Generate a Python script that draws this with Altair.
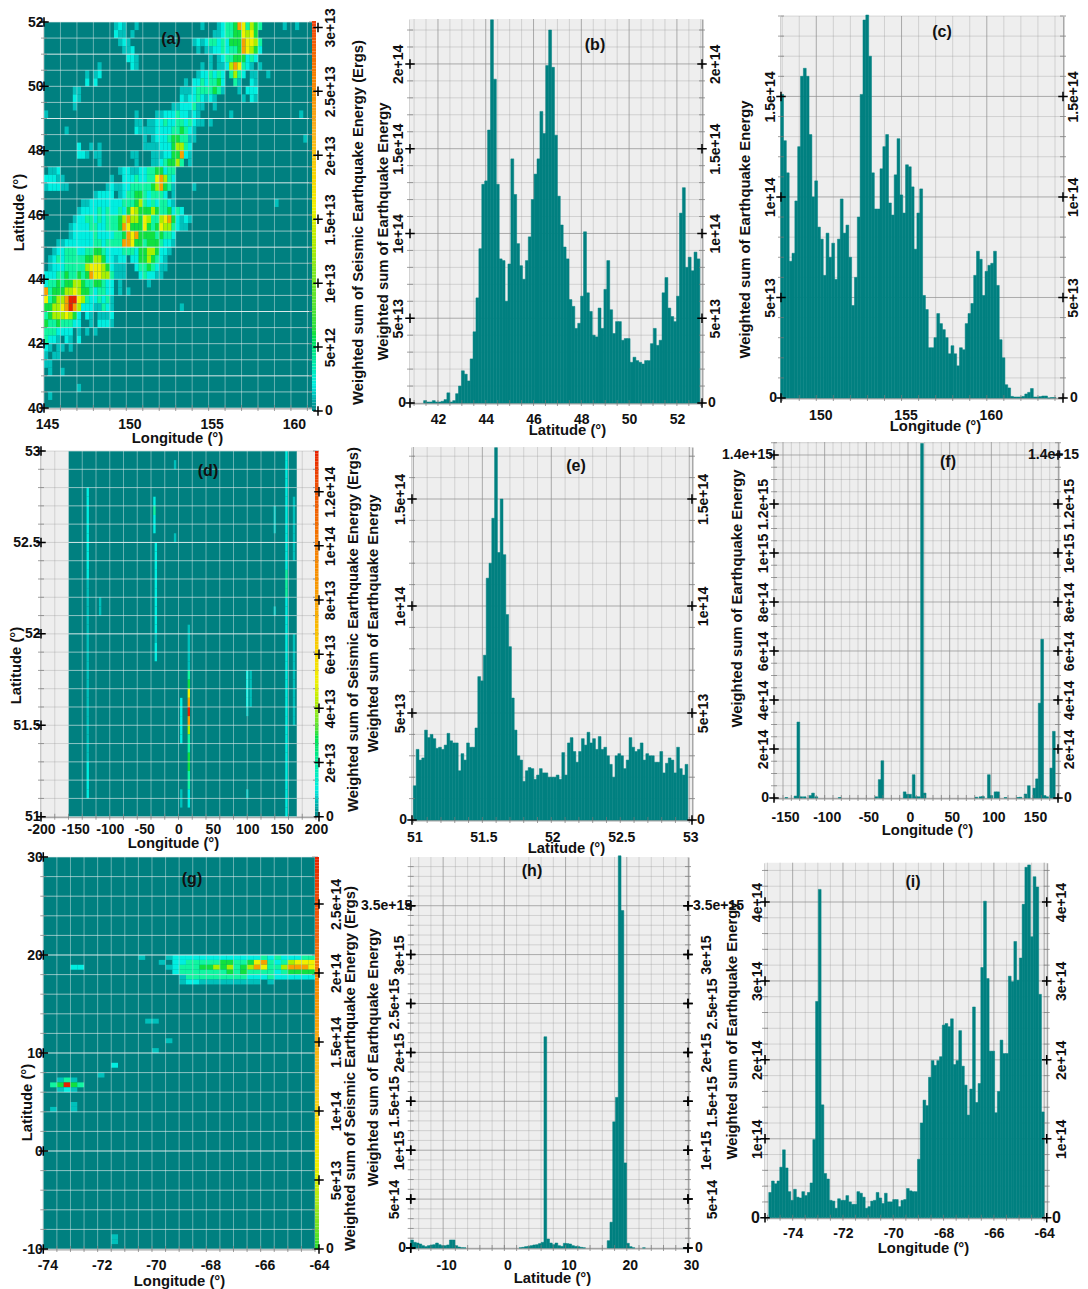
import numpy as np
import pandas as pd
import altair as alt

W, H = 1072, 1281
FONT = "Liberation Sans"
TEAL = "#008080"
PAL = ["#008080", "#00c0bb", "#00eee0", "#10f5a0", "#10e040", "#a8f000", "#f0f000", "#f8a000", "#e82000"]
T_SEIS = "Weighted sum of Seismic Earthquake Energy (Ergs)"
T_EQ = "Weighted sum of Earthquake Energy"

# ---------- histogram series (units noted per list) ----------
b_e13 = [.14,.06,.06,.14,.06,.06,.1,.2,.6,.06,.14,.55,1.0,1.9,1.7,1.3,2.6,4.2,6.2,9.1,12.9,13.1,16.1,22.6,19.1,12.9,8.5,8.4,6.0,8.2,14.4,12.3,9.4,8.1,7.3,8.4,9.8,12.0,13.5,14.4,17.2,15.9,19.9,22.0,19.8,15.8,12.2,10.5,9.2,8.5,6.1,5.7,4.4,4.7,6.3,10.1,6.5,5.4,4.0,3.9,5.6,4.4,6.7,8.4,5.5,4.1,4.8,4.8,3.7,3.8,3.8,2.4,2.7,2.5,2.4,2.3,2.5,2.5,3.5,4.4,3.4,3.7,6.5,7.4,5.6,5.1,4.8,6.3,11.2,12.7,8.0,8.6,7.8,8.9,8.5]
c_e13 = [15.1,12.8,11.2,6.8,7.2,9.8,12.5,16.0,16.4,16.0,13.1,10.0,10.8,8.5,7.9,6.1,8.2,7.0,7.7,5.9,7.9,9.9,8.2,8.6,7.0,4.6,6.0,9.0,15.1,18.8,19.05,17.0,11.2,9.4,9.4,11.4,12.5,13.1,9.7,9.1,11.1,12.9,10.1,9.2,11.6,11.5,10.5,7.4,9.2,10.4,5.1,4.4,2.5,2.5,3.0,4.2,3.7,3.4,3.0,2.2,2.6,2.2,1.6,2.5,2.4,3.7,4.2,4.7,6.1,7.3,6.9,5.1,6.3,6.6,6.7,7.3,5.6,2.9,2.0,.66,.5,.08,.05,.05,.05,.08,.2,.28,.47,.05,.05,.07,.1,.1,0,.02,.02]
e_e13 = [1.6,3.3,2.8,2.9,4.2,3.85,4.0,3.8,3.35,3.4,3.3,3.5,4.05,3.7,3.6,3.6,2.3,3.1,2.8,3.6,3.4,3.4,4.3,6.7,6.5,7.7,11.3,12.0,14.1,17.4,12.5,15.0,12.4,9.6,8.1,5.7,4.2,3.0,2.8,1.8,2.3,2.45,2.4,1.9,2.1,2.4,2.2,2.2,2.0,2.0,2.0,2.1,1.9,3.15,2.1,3.6,3.85,3.2,2.7,3.2,3.8,3.5,4.1,3.6,3.8,3.3,3.9,3.3,3.4,3.0,2.6,2.0,3.0,3.1,3.0,2.4,2.8,3.85,3.4,3.2,3.3,3.6,2.8,3.1,3.0,3.0,2.7,2.7,3.2,2.2,2.65,2.9,2.8,2.2,3.4,2.4,2.1,2.6]
f_lon = [-146,-135,-131.6,-128,-124,-117,-114,-110,-82,-38,-34,-30.8,-4,-1,2.5,6.8,10,13,16.8,20,82,87,90,97,100,105,108,117,132,135,141,145,151.6,154.8,158,161,164,167,172,175]
f_e14 = [.02,.08,3.1,.05,.05,.1,.2,.05,.02,.05,.75,1.52,.25,.15,.15,.95,.05,.05,14.47,.2,.03,.05,.06,.95,.1,.25,.25,.02,.02,.03,.16,.5,.4,.78,3.87,6.48,.1,.05,1.22,2.72]
h_run1_e14 = [.82,.58,.51,.41,.24,.14,.24,.31,.34,.51,.34,.24,.24,.31,.82,.82,.24,.1,.03,.02]
h_run2_e14 = [.02,.07,.14,.17,.24,.31,.34,.45,.58,21.6,.92,.51,.34,.51,.24,.17,.48,.45,.41,.24,.17,.14,.07,.02]
h_run3_e14 = [.75,2.64,12.9,15.4,40.1,34.5,8.7,.48,.14,.02]
h_lat_single = [22.8, 29.4]
h_val_single = [.02, .01]
i_e13 = [3.2,4.65,4.3,4.65,6.4,8.6,6.3,3.3,2.2,3.6,2.6,2.5,3.3,2.8,3.2,4.4,9.9,27.4,41.6,14.3,5.6,4.9,2.2,2.1,1.2,2.4,2.2,2.2,2.8,2.0,1.7,1.7,3.3,3.1,2.6,1.2,1.4,2.1,2.2,3.2,2.5,1.8,3.1,2.0,2.0,2.3,2.3,1.4,2.2,2.3,3.7,3.4,3.3,3.3,7.4,12.0,14.9,14.2,17.8,19.9,19.3,19.9,20.4,24.4,24.6,24.2,25.2,19.4,19.9,23.7,19.2,16.8,13.0,16.3,26.7,14.6,17.0,31.7,40.1,30.3,21.1,21.1,13.3,16.0,22.5,20.8,20.8,30.6,29.9,35.0,30.1,32.9,39.7,44.4,44.7,35.6,43.2,41.9,28.3,13.4]

# ---------- heat maps: one character per cell, level 0-8 ('.' = none) ----------
a_rows = [
 "..... ..... ..... ..121 ..1.. ..... ..... ...1. ..123 34763 543.. ...1. .1...",
 "..... ..... ..... ..211 .1... ..... ..... ..... .1123 34465 64... ..... .....",
 "..... ..... ..... ...12 1.... ..... ..... .1212 33232 44476 653.. ..... .....",
 "..... ..... ..... ....1 12... ..... ..... ..1.1 12232 33476 542.. ..... .....",
 "..... ..... ..... ..... 221.. ..... ..... ..... 1.123 34442 32... ..... .....",
 "..... ..... ...1. ..... .21.. ..... ..... ...1. 1.112 57632 1.1.. ..... .....",
 "..... ..... 1.12. ..... ..... ..... ..... ..122 3232. 3532. 11..1 ..... .....",
 "..... ..... 2.2.. ..... ..... ..... ....1 .2232 3342. .31.. 21... ..... .....",
 "..... ..11. ..... ..... ..... ..... ...11 12333 3431. ..1.2 22... ..... .....",
 "..... ..21. ..... ..... ..... ..... ...21 22321 21... ...1. 21... ..... .....",
 "..... ..1.. ..... ..... ..... ..... .1122 2311. .1... ..... ..... ..... .....",
 "1.... ..... ..... ..... ..1.. ..112 22322 121.. ..... 1.... ..... ..... ..1..",
 "..... ..... ..... ..... ..11. 11223 22332 3211. 1.... ..... ..... ..... .....",
 "..... 1.... ..... ..... ..211 11222 23343 21... ..... ..... ..... ..... .....",
 "..... ..... ..... ..... ....1 .1222 34433 11... ..... ..... ..... ..... ...1.",
 "..... ...2. .1.1. ..... ....1 11122 24553 2.... ..... ..... ..... ..... .....",
 "..... ...22 1.11. ..... .11.. .1112 24472 1.... ..... ..... ..... ..... .....",
 "..... ..... ...1. ..... ..1.. .1123 4453. 1.... ..... ..... ..... ..... .....",
 ".112. ..... ..... ...12 21122 33442 33... ..... ..... ..... ..... ..... .....",
 "22211 ..... ..... .1..2 22322 33675 32... ..... ..... ..... ..... ..... .....",
 "12221 1.... ..... 12112 23333 34574 31... .1... ..... ..... ..... ..... .....",
 "..... ..... ..122 22.12 33443 23332 .1... ..... ..... ..... ..... ..... .....",
 "..... ....1 12222 22223 33453 23233 21... ..... ..... ..... ..... .1... .....",
 "..... ...12 22232 32232 46544 45433 4232. ..... ..... ..... ..... ..... .....",
 "..... ..122 33232 33345 75546 53356 74212 1.... ..... ..... ..... ..... .....",
 "..... .1222 23322 33347 64446 43465 53211 ..... ..... ..... ..... ..... .....",
 "..... .1222 22322 22334 76744 44343 32... ..... ..... ..... ..... ..... .....",
 "...11 22222 22332 33337 76443 44432 21... ..... ..... ..... ..... ..... .....",
 "..122 33322 33443 22223 33244 55422 1.... ..... ..... ..... ..... ..... .....",
 ".1232 33333 44554 22122 .2244 54321 ..... ..... ..... ..... ..... ..... .....",
 ".1222 33333 56665 42111 ..233 43211 ..... ..... ..... ..... ..... ..... .....",
 "22233 43343 47665 53111 ...23 2211. ..... ..... ..... ..... ..... ..... .....",
 "23343 44554 33443 22.1. ..... 1.... ..... ..... ..... ..... ..... ..... .....",
 "73444 55654 43233 22.1. 1.... ..... ..... ..... ..... ..... ..... ..... .....",
 "63455 78865 32232 31... ..... ..... ..... ..... ..... ..... ..... ..... .....",
 "44556 78752 22113 21... ..... ..... ...1. ..... ..... ..... ..... ..... .....",
 "34555 6542. 21.11 12... ..... ..... ..... ..... ..... ..... ..... ..... .....",
 "43343 3322. .1.22 21... ..... ..... ..... ..... ..... ..... ..... ..... .....",
 "33322 22.1. 1.1.. ..... ..... ..... ..... ..... ..... ..... ..... ..... .....",
 "3221. 21.2. ..... ..... ..... ..... ..... ..... ..... ..... ..... ..... .....",
 "21.11 .1... ..... ..... ..... ..... ..... ..... ..... ..... ..... ..... .....",
 "1.11. ..... ..... ..... ..... ..... ..... ..... ..... ..... ..... ..... .....",
 "11... ..... ..... ..... ..... ..... ..... ..... ..... ..... ..... ..... .....",
 ".1..1 ..... ..... ..... ..... ..... ..... ..... ..... ..... ..... ..... .....",
 "..... ..... ..... ..... ..... ..... ..... ..... ..... ..... ..... ..... .....",
 "..... ...1. ..... ..... ..... ..... ..... ..... ..... ..... ..... ..... .....",
 ".1... ..... ..... ..... ..... ..... ..... ..... ..... ..... ..... ..... .....",
 "..... ..... ..... ..... ..... ..... ..... ..... ..... ..... ..... ..... .....",
]
d_streak_lon = [-132, -114, -35, -33, -5, 4, 15, 100, 105, 140, 157, 168]
d_streaks = [
 "....2222222222111111111111111111112222",
 "................11......................",
 ".....2322...............................",
 "..........2222222222122.................",
 ".1.......1..............................",
 "...........................22222.....11.",
 "...................11111346787533443322",
 "........................22221........1..",
 "........................1111............",
 "......111........1......................",
 "2222222222222333222222222222222222222222",
 ".....1111111........1111111111..........",
]
g_rows = {
 20.0: "..... ..... ....1 ...12 22222 22222 22323 22233",
 19.5: "..... ..... ..... ..1.2 23333 34433 46732 35666",
 19.0: "....2 2.... ..... ...12 33344 54534 57633 57776",
 18.5: "..... ..... ..... ....2 33333 33434 33332 34444",
 18.0: "..... ..... ..... ..... 13333 33333 22232 22222",
 17.5: "..... ..... ..... ..... 12211 11111 11.1. .....",
 13.5: "..... ..... ..... 11... ..... ..... ..... .....",
 11.5: "..... ..... ..... ...1. ..... ..... ..... .....",
 10.5: "..... ..... ..... .1... ..... ..... ..... .....",
 9.0:  "..... ..... 2.... ..... ..... ..... ..... .....",
 8.0:  "..... ...1. ..... ..... ..... ..... ..... .....",
 7.5:  "..131 ..... ..... ..... ..... ..... ..... .....",
 7.0:  ".3484 3.... ..... ..... ..... ..... ..... .....",
 6.5:  "..121 ..... ..... ..... ..... ..... ..... .....",
 5.0:  "....1 ..... ..... ..... ..... ..... ..... .....",
 4.5:  ".1..1 ..... ..... ..... ..... ..... ..... .....",
 -8.5: "..... ..... 1.... ..... ..... ..... ..... .....",
 -9.0: "..... ..... 1.... ..... ..... ..... ..... .....",
}
# colour bars: value stops and colours
a_stops = [0, 2e12, 6e12, 1.1e13, 1.6e13, 2.2e13, 3.05e13]
a_cols = ["#008080", "#00eee0", "#10e040", "#7fe820", "#f0f000", "#f8b020", "#f04010"]
d_stops = [0, 1e13, 3e13, 5e13, 8e13, 1.35e14]
d_cols = ["#008080", "#00eee0", "#10e040", "#f0f000", "#f8a000", "#e82000"]
g_stops = [0, 3e13, 6e13, 1.3e14, 2.3e14, 2.84e14]
g_cols = ["#10dd30", "#a0e820", "#f0f000", "#f8c020", "#f06010", "#e82000"]


def bins(lo, hi, vals, mul):
    step = (hi - lo) / len(vals)
    return [(lo + i * step, lo + (i + 1) * step, v * mul) for i, v in enumerate(vals)]


def centred(cs, vals, wid, mul):
    return [(c - wid / 2, c + wid / 2, v * mul) for c, v in zip(cs, vals)]


def cells_from_rows(rows, lon0, dlon, lat0, dlat):
    out = []
    for j, r in enumerate(rows):
        r = r.replace(" ", "")
        for i, ch in enumerate(r):
            if ch != ".":
                out.append(dict(x0=lon0 + i * dlon, x1=lon0 + (i + 1) * dlon,
                                y0=lat0 - j * dlat, y1=lat0 - (j + 1) * dlat, lv=int(ch)))
    return out


a_cells = cells_from_rows(a_rows, 145, .25, 52, .25)
d_cells = []
for lon, s in zip(d_streak_lon, d_streaks):
    for j, ch in enumerate(s):
        if ch != ".":
            d_cells.append(dict(x0=lon - 1.7, x1=lon + 1.7, y0=53 - j * .05, y1=53 - (j + 1) * .05, lv=int(ch)))
g_cells = []
for top, s in g_rows.items():
    for i, ch in enumerate(s.replace(" ", "")):
        if ch != ".":
            g_cells.append(dict(x0=-74 + i * .25, x1=-74 + (i + 1) * .25, y0=top, y1=top - .5, lv=int(ch)))

h_bars = (bins(-15.3, -15.3 + .452 * 20, h_run1_e14, 1e14) + bins(2.4, 2.4 + .452 * 24, h_run2_e14, 1e14)
          + bins(16.8, 16.8 + .452 * 10, h_run3_e14, 1e14) + centred(h_lat_single, h_val_single, .45, 1e14))

E = "datum.value == 0 ? '0' : format(datum.value, '.2~e')"
N = "datum.value + ''"
TS = 14.8


def scale(dom, rng):
    return alt.Scale(domain=list(dom), range=[rng[0] - 8, rng[1] - 8], nice=False, zero=False)


def inv(v, dom, rng):
    return dom[0] + (v - rng[0]) * (dom[1] - dom[0]) / (rng[1] - rng[0])


def yaxis(orient, values, x_px, pad, angle=270, title=None, title_x=None, title_cy=None, expr=E, domain=True):
    off = -(x_px - 8) if orient == "left" else (x_px - 8 - W)
    kw = dict(orient=orient, values=values, offset=off, ticks=False, tickSize=0, grid=False,
              labelPadding=pad, labelAngle=angle, labelOverlap=False, labelFlush=False,
              labelBaseline="middle", domain=domain, domainColor="#a8a8a8", domainWidth=2,
              labelFontSize=14, labelFontWeight="bold", labelFont=FONT, labelColor="#111111",
              labelExpr=expr)
    kw["labelAlign"] = "center" if angle else ("right" if orient == "left" else "left")
    if title:
        kw.update(title=title, titleX=title_x - x_px, titleY=title_cy - 8, titleAngle=270, titleAlign="center",
                  titleBaseline="middle", titleFontSize=TS, titleFontWeight="bold", titleFont=FONT, titleColor="#111111")
    else:
        kw["title"] = None
    return alt.Axis(**kw)


def xaxis(values, y_px, lab_y, title, tx, ty, off=0):
    return alt.Axis(orient="bottom", values=values, offset=y_px - 8 - H, ticks=False, tickSize=0, grid=False,
                    labelPadding=lab_y - y_px, labelBaseline="middle", labelAngle=0, labelOverlap=False, labelFlush=False,
                    labelOffset=off, domain=True, domainColor="#a8a8a8", domainWidth=2, labelExpr=N,
                    labelFontSize=14, labelFontWeight="bold", labelFont=FONT, labelColor="#111111",
                    title=title, titleX=tx - 8, titleY=ty - y_px, titleFontSize=TS, titleFontWeight="bold",
                    titleFont=FONT, titleColor="#111111", titleAnchor="middle", titleBaseline="middle", titleAlign="center")


PLUS = dict(shape="M-1,0H1M0,-1V1", filled=False, size=90, stroke="#000000", strokeWidth=1.5, opacity=1)


def grid_layers(p, xs, ys, col, wid=1.0, xr=None, yr=None):
    xd, yd = p["xd"], p["yd"]
    sx, sy = scale(xd, p["xp"]), scale(yd, p["yp"])
    a, b = (yr or yd)
    c, d = (xr or xd)
    dv = pd.DataFrame([dict(pos=v, a=a, b=b, o=o) for v, o in xs])
    dh = pd.DataFrame([dict(pos=v, a=c, b=d, o=o) for v, o in ys])
    return [
        alt.Chart(dv).mark_rule(color=col, strokeWidth=wid).encode(
            x=alt.X("pos:Q", scale=sx, axis=None), y=alt.Y("a:Q", scale=sy, axis=None), y2="b:Q",
            opacity=alt.Opacity("o:Q", scale=None)),
        alt.Chart(dh).mark_rule(color=col, strokeWidth=wid).encode(
            y=alt.Y("pos:Q", scale=sy, axis=None), x=alt.X("a:Q", scale=sx, axis=None), x2="b:Q",
            opacity=alt.Opacity("o:Q", scale=None)),
    ]


def steps(lo, hi, step, majors=(), mj=.72, mn=0.3):
    first = np.ceil(lo / step) * step
    out = []
    for v in np.arange(first, hi + step * .01, step):
        v = float(round(v, 6))
        out.append((v, mj if any(abs(v - m) < 1e-6 * max(1, abs(m)) for m in majors) else mn))
    return out


def edge_ticks(p, xs, ys):
    xd, yd = p["xd"], p["yd"]
    sx, sy = scale(xd, p["xp"]), scale(yd, p["yp"])
    tv = pd.DataFrame(dict(pos=[v for v, _ in xs], e=yd[0]))
    th = pd.DataFrame(dict(pos=[v for v, _ in ys] * 2, e=[xd[0]] * len(ys) + [xd[1]] * len(ys)))
    return [
        alt.Chart(tv).mark_tick(orient="vertical", color="#777777", size=6, thickness=1).encode(
            x=alt.X("pos:Q", scale=sx, axis=None), y=alt.Y("e:Q", scale=sy, axis=None)),
        alt.Chart(th).mark_tick(orient="horizontal", color="#777777", size=6, thickness=1).encode(
            y=alt.Y("pos:Q", scale=sy, axis=None), x=alt.X("e:Q", scale=sx, axis=None)),
    ]


def panel(p):
    xd, yd, xp, yp = p["xd"], p["yd"], p["xp"], p["yp"]
    sx, sy = scale(xd, xp), scale(yd, yp)
    L = []
    rect = pd.DataFrame([dict(x0=xd[0], x1=xd[1], y0=yd[0], y1=yd[1])])
    L.append(alt.Chart(rect).mark_rect(color="#eeeeee").encode(
        x=alt.X("x0:Q", scale=sx, axis=None), x2="x1:Q", y=alt.Y("y0:Q", scale=sy, axis=None), y2="y1:Q"))
    xs = steps(xd[0], xd[1], p["xg"], p["xmaj"])
    ys = steps(yd[0], yd[1], p["yg"], p["ymaj"])
    if p.get("cells") is None or p.get("tealx"):
        L += grid_layers(p, xs, ys, "#8f8f8f")
    if p.get("cells") is not None:
        tx = p.get("tealx") or xd
        trect = pd.DataFrame([dict(x0=tx[0], x1=tx[1], y0=yd[0], y1=yd[1])])
        L.append(alt.Chart(trect).mark_rect(color=TEAL).encode(
            x=alt.X("x0:Q", scale=sx, axis=None), x2="x1:Q", y=alt.Y("y0:Q", scale=sy, axis=None), y2="y1:Q"))
        L.append(alt.Chart(pd.DataFrame(p["cells"])).mark_rect().encode(
            x=alt.X("x0:Q", scale=sx, axis=None), x2="x1:Q", y=alt.Y("y0:Q", scale=sy, axis=None), y2="y1:Q",
            color=alt.Color("lv:Q", scale=alt.Scale(domain=list(range(9)), range=PAL), legend=None)))
        wx = [(v, .45) for v, _ in xs if tx[0] <= v <= tx[1]]
        wy = [(v, .95 if v in p.get("bright", ()) else .62) for v, _ in ys]
        L += grid_layers(p, wx, wy, "#e4eeee", xr=tx)
    if p.get("bars") is not None:
        bdf = pd.DataFrame(p["bars"], columns=["x0", "x1", "v"]).assign(base=0.0)
        L.append(alt.Chart(bdf).mark_rect(color=TEAL, stroke=TEAL, strokeWidth=0.5).encode(
            x=alt.X("x0:Q", scale=sx, axis=None), x2="x1:Q", y=alt.Y("v:Q", scale=sy, axis=None), y2="base:Q"))
    L += edge_ticks(p, xs, ys)
    # left axis + bottom axis, carried by the left plus marks
    for k, (vals, pad) in enumerate(p["left"]):
        df = pd.DataFrame(dict(x=[inv(p.get("plus_l", xp[0]), xd, xp)] * len(p["yt"]), y=p["yt"]))
        ax = yaxis("left", vals, xp[0], pad, angle=p.get("langle", 270), domain=(k == 0),
                   title=p["ltitle"] if k == 0 else None, title_x=p["ltx"], title_cy=p["lty"],
                   expr=E if p.get("energy", True) else N)
        xa = xaxis(p["xt"], yp[0], p["xly"], p["xtitle"], p["xtx"], p["xty"], p.get("xoff", 0)) if k == 0 else None
        L.append(alt.Chart(df).mark_point(**PLUS).encode(x=alt.X("x:Q", scale=sx, axis=xa), y=alt.Y("y:Q", scale=sy, axis=ax)))
    # right axis of histograms
    for k, (vals, pad) in enumerate(p.get("right", [])):
        df = pd.DataFrame(dict(x=[xd[1]] * len(p["yt"]), y=p["yt"]))
        ax = yaxis("right", vals, xp[1], pad, domain=(k == 0))
        L.append(alt.Chart(df).mark_point(**PLUS).encode(x=alt.X("x:Q", scale=sx, axis=None), y=alt.Y("y:Q", scale=sy, axis=ax)))
    # upright labels
    for (val, txt, xpx, al, fs) in p.get("flat", []):
        df = pd.DataFrame([dict(x=inv(xpx, xd, xp), y=val, t=txt)])
        L.append(alt.Chart(df).mark_text(font=FONT, fontWeight="bold", fontSize=fs, align=al, baseline="middle", color="#111111").encode(
            x=alt.X("x:Q", scale=sx, axis=None), y=alt.Y("y:Q", scale=sy, axis=None), text="t:N"))
    # panel letter
    lx, ly = p["tag_at"]
    df = pd.DataFrame([dict(x=inv(lx, xd, xp), y=inv(ly, yd, yp), t=p["tag"])])
    L.append(alt.Chart(df).mark_text(font=FONT, fontWeight="bold", fontSize=16, color="#111111").encode(
        x=alt.X("x:Q", scale=sx, axis=None), y=alt.Y("y:Q", scale=sy, axis=None), text="t:N"))
    # colour bar
    cb = p.get("cb")
    if cb:
        cx = (0, 1)
        cxp = cb["xp"]
        cyp = cb["yp"]
        cyd = (0, cb["stops"][-1])
        scx, scy = scale(cx, cxp), scale(cyd, cyp)
        edges = np.linspace(0, cb["stops"][-1], 141)
        cdf = pd.DataFrame(dict(a=edges[:-1], b=edges[1:], c=(edges[:-1] + edges[1:]) / 2, x0=0.0, x1=1.0))
        L.append(alt.Chart(cdf).mark_rect().encode(
            x=alt.X("x0:Q", scale=scx, axis=None), x2="x1:Q", y=alt.Y("a:Q", scale=scy, axis=None), y2="b:Q",
            color=alt.Color("c:Q", scale=alt.Scale(domain=cb["stops"], range=cb["cols"]), legend=None)))
        pdf = pd.DataFrame(dict(x=[inv(cb["plus"], cx, cxp)] * len(cb["ticks"]), y=cb["ticks"]))
        ax = yaxis("right", [t for t in cb["ticks"] if t], cxp[1], cb["pad"], title=T_SEIS, title_x=cb["tx"], title_cy=cb["ty"], domain=False)
        L.append(alt.Chart(pdf).mark_point(**PLUS).encode(x=alt.X("x:Q", scale=scx, axis=None), y=alt.Y("y:Q", scale=scy, axis=ax)))
        df0 = pd.DataFrame([dict(x=inv(cb["plus"] + 7, cx, cxp), y=0, t="0")])
        L.append(alt.Chart(df0).mark_text(font=FONT, fontWeight="bold", fontSize=14, align="left", baseline="middle", color="#111111").encode(
            x=alt.X("x:Q", scale=scx, axis=None), y=alt.Y("y:Q", scale=scy, axis=None), text="t:N"))
    return L


panels = [
    dict(tag="(a)", tag_at=(171, 39), xd=(145, 161.28), yd=(40, 52), xp=(44, 312), yp=(408, 22), cells=a_cells,
         xg=1, xmaj=[], yg=.5, ymaj=[], bright=[41, 43, 45, 47, 49, 51],
         yt=[40, 42, 44, 46, 48, 50, 52], xt=[145, 150, 155, 160], left=[([40, 42, 44, 46, 48, 50, 52], 1)], langle=0, energy=False,
         ltitle="Latitude (°)", ltx=19, lty=212, xly=424, xtitle="Longitude (°)", xtx=177, xty=438, xoff=3,
         cb=dict(xp=(312, 316), yp=(411, 21), stops=a_stops, cols=a_cols, plus=318, pad=14, tx=358, ty=222,
                 ticks=[0, 5e12, 1e13, 1.5e13, 2e13, 2.5e13, 3e13])),
    dict(tag="(b)", tag_at=(595, 45), xd=(40.83, 53.05), yd=(0, 2.265e14), xp=(410, 702), yp=(403, 19),
         bars=bins(41.4, 52.96, b_e13, 1e13), xg=.5, xmaj=[42, 44, 46, 48, 50, 52], yg=1e13, ymaj=[5e13, 1e14, 1.5e14, 2e14],
         yt=[0, 5e13, 1e14, 1.5e14, 2e14], xt=[42, 44, 46, 48, 50, 52], left=[([5e13, 1e14, 1.5e14, 2e14], 12)], right=[([5e13, 1e14, 1.5e14, 2e14], 13)],
         flat=[(0, "0", 406, "right", 14), (0, "0", 708, "left", 14)],
         ltitle=T_EQ, ltx=383, lty=231, xly=419, xtitle="Latitude (°)", xtx=567, xty=430),
    dict(tag="(c)", tag_at=(942, 32), xd=(147.93, 164.47), yd=(0, 1.9e14), xp=(781, 1063), yp=(398, 16),
         bars=bins(147.91, 164.06, c_e13, 1e13), xg=1, xmaj=[150, 155, 160], yg=1e13, ymaj=[5e13, 1e14, 1.5e14],
         yt=[0, 5e13, 1e14, 1.5e14], xt=[150, 155, 160], left=[([5e13, 1e14, 1.5e14], 11)], right=[([5e13, 1e14, 1.5e14], 10)],
         flat=[(0, "0", 777, "right", 14), (0, "0", 1070, "left", 14)],
         ltitle=T_EQ, ltx=745, lty=229, xly=415, xtitle="Longitude (°)", xtx=935, xty=426, xoff=4),
    dict(tag="(d)", tag_at=(208, 471), xd=(-200, 200), yd=(51, 53), xp=(41, 316), yp=(816.7, 451), cells=d_cells, tealx=(-160, 172),
         xg=20, xmaj=[], yg=.1, ymaj=[], bright=[52, 52.5],
         yt=[51, 51.5, 52, 52.5, 53], xt=[-200, -150, -100, -50, 0, 50, 100, 150, 200], left=[([51, 51.5, 52, 52.5, 53], 1)], langle=0, energy=False,
         ltitle="Latitude (°)", ltx=16, lty=665, xly=829, xtitle="Longitude (°)", xtx=173, xty=843,
         cb=dict(xp=(315, 318.5), yp=(816.7, 451), stops=d_stops, cols=d_cols, plus=319, pad=12, tx=353, ty=629,
                 ticks=[0, 2e13, 4e13, 6e13, 8e13, 1e14, 1.2e14])),
    dict(tag="(e)", tag_at=(576, 466), xd=(50.99, 53.02), yd=(0, 1.743e14), xp=(412, 692), yp=(820, 447),
         bars=bins(51, 52.99, e_e13, 1e13), xg=.1, xmaj=[51, 51.5, 52, 52.5, 53], yg=1e13, ymaj=[5e13, 1e14, 1.5e14],
         yt=[0, 5e13, 1e14, 1.5e14], xt=[51, 51.5, 52, 52.5, 53], left=[([5e13, 1e14, 1.5e14], 12)], right=[([5e13, 1e14, 1.5e14], 11)],
         flat=[(0, "0", 407, "right", 14), (0, "0", 697, "left", 14)],
         ltitle=T_EQ, ltx=373, lty=623, xly=837, xtitle="Latitude (°)", xtx=566, xty=848, xoff=1),
    dict(tag="(f)", tag_at=(948, 462), xd=(-160.8, 180), yd=(0, 1.453e15), xp=(774, 1058), yp=(798, 442),
         bars=centred(f_lon, f_e14, 3.3, 1e14), xg=10, xmaj=[-150, -100, -50, 0, 50, 100, 150], yg=5e13, ymaj=[2e14, 4e14, 6e14, 8e14, 1e15, 1.2e15, 1.4e15],
         yt=[0, 2e14, 4e14, 6e14, 8e14, 1e15, 1.2e15, 1.4e15], xt=[-150, -100, -50, 0, 50, 100, 150],
         left=[([2e14, 4e14, 6e14, 8e14, 1e15, 1.2e15], 11)], right=[([2e14, 4e14, 6e14, 8e14, 1e15, 1.2e15], 11)],
         flat=[(0, "0", 769, "right", 14), (0, "0", 1064, "left", 14), (1.4e15, "1.4e+15", 773, "right", 14), (1.4e15, "1.4e+15", 1079, "right", 14)],
         ltitle=T_EQ, ltx=737, lty=598, xly=817, xtitle="Longitude (°)", xtx=927, xty=830, xoff=2),
    dict(tag="(g)", tag_at=(192, 879), xd=(-74, -64), yd=(-10, 30), xp=(43.3, 315), yp=(1249, 857), cells=g_cells,
         xg=.5, xmaj=[], yg=2, ymaj=[], bright=[20, 10, 0],
         yt=[-10, 0, 10, 20, 30], xt=[-74, -72, -70, -68, -66, -64], left=[([-10, 0, 10, 20, 30], 1)], langle=0, energy=False,
         ltitle="Latitude (°)", ltx=27, lty=1102, xly=1265, xtitle="Longitude (°)", xtx=179, xty=1281, xoff=4,
         cb=dict(xp=(315, 319), yp=(1249, 857), stops=g_stops, cols=g_cols, plus=319, pad=17, tx=350, ty=1068,
                 ticks=[0, 5e13, 1e14, 1.5e14, 2e14, 2.5e14])),
    dict(tag="(h)", tag_at=(532, 871), xd=(-15.3, 30), yd=(0, 3.998e15), xp=(410.7, 688), yp=(1248, 857),
         bars=h_bars, xg=2, xmaj=[-10, 0, 10, 20], yg=1e14, ymaj=[5e14, 1e15, 1.5e15, 2e15, 2.5e15, 3e15, 3.5e15],
         yt=[0, 5e14, 1e15, 1.5e15, 2e15, 2.5e15, 3e15, 3.5e15], xt=[-10, 0, 10, 20, 30],
         left=[([5e14, 1.5e15, 2.5e15], 16), ([1e15, 2e15, 3e15], 11)], right=[([5e14, 1.5e15, 2.5e15], 24), ([1e15, 2e15, 3e15], 18)],
         flat=[(0, "0", 406, "right", 14), (0, "0", 695, "left", 14), (3.5e15, "3.5e+15", 412, "right", 14), (3.5e15, "3.5e+15", 693, "left", 14)],
         ltitle=T_EQ, ltx=373, lty=1057, xly=1265, xtitle="Latitude (°)", xtx=552, xty=1278, xoff=3),
    dict(tag="(i)", tag_at=(913, 882), xd=(-75.1, -63.9), yd=(0, 4.498e14), xp=(765, 1046.7), yp=(1217.7, 862.7),
         bars=bins(-74.95, -64, i_e13, 1e13), xg=.5, xmaj=[-74, -72, -70, -68, -66, -64], yg=2e13, ymaj=[1e14, 2e14, 3e14, 4e14],
         yt=[0, 1e14, 2e14, 3e14, 4e14], xt=[-74, -72, -70, -68, -66, -64],
         left=[([1e14, 2e14, 3e14, 4e14], 8)], right=[([1e14, 2e14, 3e14, 4e14], 15)],
         flat=[(0, "0", 760, "right", 16), (0, "0", 1052, "left", 16)],
         ltitle=T_EQ, ltx=732, lty=1030, xly=1233, xtitle="Longitude (°)", xtx=923, xty=1248),
]

layers = []
for p in panels:
    layers += panel(p)

chart = (alt.layer(*layers)
         .resolve_scale(x="independent", y="independent", color="independent", opacity="independent")
         .resolve_axis(x="independent", y="independent")
         .properties(width=W, height=H, padding=0, autosize=alt.AutoSizeParams(type="none"))
         .configure_view(stroke=None))
chart.save("out.html", embed_options={"renderer": "svg", "actions": False})
